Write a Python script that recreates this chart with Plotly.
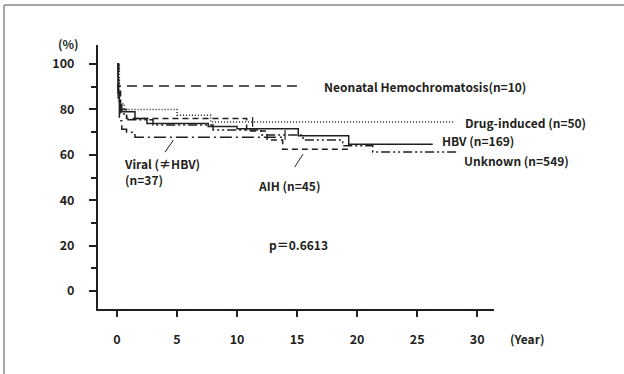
import plotly.graph_objects as go

# Kaplan-Meier survival by etiology (time in years, survival in %)
neo_t = [0, 0.15, 15.0]
neo_s = [100, 90.3, 90.3]

drug_t = [0, 0.2, 0.6, 5.0, 7.8, 28.0]
drug_s = [100, 82.5, 80.0, 77.5, 74.5, 74.5]

hbv_t = [0, 0.1, 0.2, 0.4, 1.5, 2.5, 7.6, 10.0, 15.1, 19.3, 26.3]
hbv_s = [100, 88, 82, 79, 76, 73.8, 72.5, 71.5, 68.4, 64.7, 64.7]

unk_t = [0, 0.1, 0.3, 0.8, 3.0, 8.0, 12.0, 15.5, 18.8, 21.3, 28.4]
unk_s = [100, 85, 78, 75.5, 73.2, 71.0, 68.8, 66.5, 64.0, 61.3, 61.3]

viral_t = [0, 0.1, 0.2, 0.4, 0.8, 1.5, 14.0]
viral_s = [100, 85, 75, 71.3, 70.0, 67.8, 67.8]

aih_t = [0, 0.1, 0.3, 0.8, 10.8, 12.5, 13.8, 19.3]
aih_s = [100, 90, 80, 76.0, 70.5, 66.5, 62.5, 62.5]

# censor marks
cens_t = [11.3, 14.0]
cens_s = [74.5, 68.8]

x_ticks = [0, 5, 10, 15, 20, 25, 30]
y_ticks = [0, 20, 40, 60, 80, 100]

FONT = "Noto Sans CJK JP"
INK = "#231f20"

series = [
    (neo_t, neo_s, "10px,6px"),
    (drug_t, drug_s, "1px,2px"),
    (hbv_t, hbv_s, "solid"),
    (unk_t, unk_s, "9px,3px,2px,3px,2px,3px"),
    (viral_t, viral_s, "12px,4px,2px,4px"),
    (aih_t, aih_s, "6px,4px"),
]

fig = go.Figure()
for t, s, dash in series:
    fig.add_trace(go.Scatter(
        x=t, y=s, mode="lines", line=dict(shape="hv", color=INK, width=1.5, dash=dash),
        showlegend=False, hoverinfo="skip"))

fig.add_trace(go.Scatter(
    x=cens_t, y=cens_s, mode="markers",
    marker=dict(symbol="line-ns", size=7, line=dict(color=INK, width=1.2)),
    showlegend=False, hoverinfo="skip"))

txt_font = dict(family=FONT, size=12, color=INK, weight="bold")

labels = [
    (17.1, 90.3, "Neonatal Hemochromatosis(n=10)"),
    (28.8, 74.4, "Drug-induced (n=50)"),
    (26.9, 66.5, "HBV (n=169)"),
    (28.75, 57.7, "Unknown (n=549)"),
    (0.4, 56.4, "Viral (≠HBV)"),
    (0.5, 49.0, "(n=37)"),
    (11.6, 46.7, "AIH (n=45)"),
]
for x, y, txt in labels:
    fig.add_annotation(x=x, y=y, xref="x", yref="y", text=txt, showarrow=False,
                       xanchor="left", yanchor="middle", font=txt_font)

fig.add_annotation(x=15.1, y=20.7, xref="x", yref="y", text="p＝0.6613", showarrow=False,
                   font=txt_font)

# axis unit captions, placed in paper space outside the plotting area
fig.add_annotation(x=(68 - 98) / 396, y=1 + (45 - 44) / 264, xref="paper", yref="paper",
                   xanchor="center", yanchor="middle",
                   text="(%)", showarrow=False, font=txt_font)
fig.add_annotation(x=(527 - 98) / 396, y=-(338 - 309) / 264, xref="paper", yref="paper",
                   xanchor="center", yanchor="middle",
                   text="(Year)", showarrow=False, font=txt_font)

# leader lines from labels to curves
fig.add_shape(type="line", xref="x", yref="y", x0=4.0, y0=61.2, x1=4.7, y1=66.5,
              line=dict(color=INK, width=1))
fig.add_shape(type="line", xref="x", yref="y", x0=14.8, y0=54.6, x1=15.5, y1=60.4,
              line=dict(color=INK, width=1))

# frame lines along the top and left edge
fx = (4 - 98) / 396
fy = 1 + (45 - 5) / 264
fig.add_shape(type="line", xref="paper", yref="paper", x0=fx, y0=fy, x1=1.4, y1=fy,
              line=dict(color="#8a8a8a", width=1.5))
fig.add_shape(type="line", xref="paper", yref="paper", x0=fx, y0=fy, x1=fx, y1=-0.3,
              line=dict(color="#8a8a8a", width=1.5))

axis_font = dict(family=FONT, size=12.5, color=INK, weight="bold")
fig.update_xaxes(range=[-1.58, 31.4], tickvals=x_ticks, ticks="outside", ticklen=6,
                 tickwidth=1.5, tickcolor=INK, showline=True, linecolor=INK, linewidth=2,
                 showgrid=False, zeroline=False, tickfont=axis_font, ticklabelstandoff=12)
fig.update_yaxes(range=[-7.9, 108.4], tickvals=y_ticks, ticks="outside", ticklen=7,
                 tickwidth=1.5, tickcolor=INK, showline=True, linecolor=INK, linewidth=2,
                 showgrid=False, zeroline=False, tickfont=axis_font, ticklabelstandoff=12,
                 minor=dict(tickvals=[10, 30, 50, 70, 90], ticks="outside", ticklen=5,
                            tickwidth=1.5, tickcolor=INK))

fig.update_layout(width=624, height=374, margin=dict(l=98, r=130, t=45, b=65),
                  paper_bgcolor="white", plot_bgcolor="white")

fig.write_html("out.html")
